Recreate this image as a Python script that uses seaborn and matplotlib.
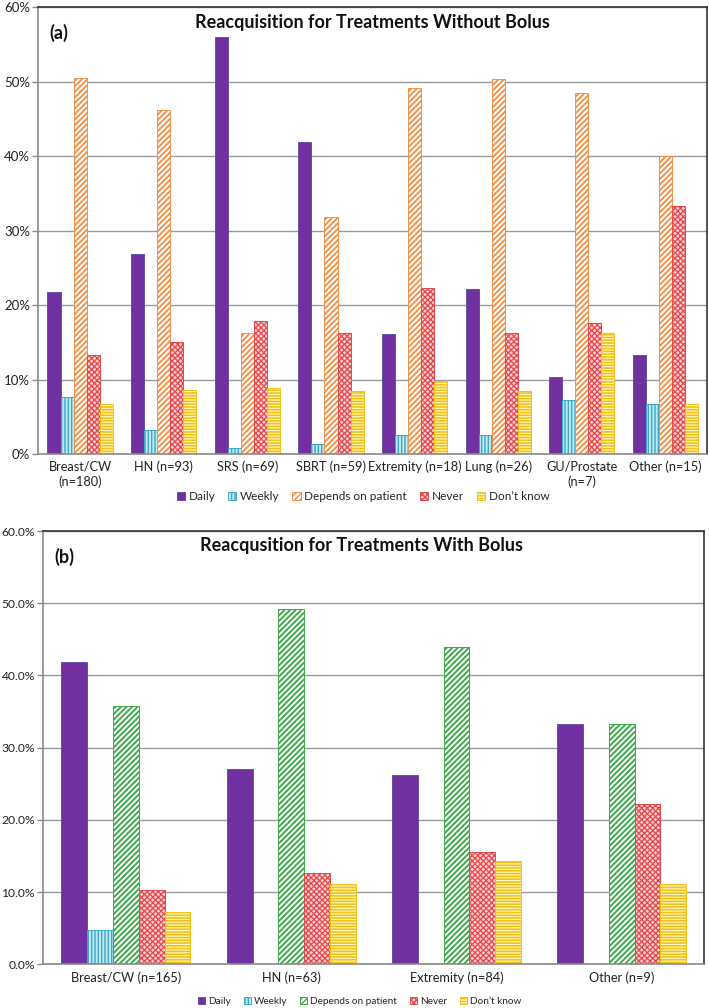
import numpy as np
import pandas as pd
import matplotlib
matplotlib.use("Agg")
import matplotlib.pyplot as plt
import seaborn as sns

# ---------------- data ----------------
responses = ["Daily", "Weekly", "Depends on patient", "Never", "Don\u2019t know"]

sites_a = ["Breast/CW\n(n=180)", "HN (n=93)", "SRS (n=69)", "SBRT (n=59)",
           "Extremity (n=18)", "Lung (n=26)", "GU/Prostate\n(n=7)", "Other (n=15)"]
daily_a = [21.7, 26.9, 56.0, 41.9, 16.1, 22.2, 10.3, 13.3]
weekly_a = [7.7, 3.2, 0.8, 1.4, 2.6, 2.6, 7.3, 6.7]
depends_a = [50.5, 46.2, 16.3, 31.9, 49.1, 50.4, 48.5, 40.0]
never_a = [13.3, 15.0, 17.9, 16.3, 22.3, 16.3, 17.6, 33.3]
dontknow_a = [6.7, 8.6, 8.9, 8.5, 9.8, 8.5, 16.2, 6.7]

sites_b = ["Breast/CW (n=165)", "HN (n=63)", "Extremity (n=84)", "Other (n=9)"]
daily_b = [41.8, 27.0, 26.2, 33.3]
weekly_b = [4.8, 0.0, 0.0, 0.0]
depends_b = [35.7, 49.2, 44.0, 33.3]
never_b = [10.3, 12.7, 15.5, 22.2]
dontknow_b = [7.3, 11.1, 14.3, 11.1]

yticks = [0, 10, 20, 30, 40, 50, 60]
title_a = "Reacquisition for Treatments Without Bolus"
title_b = "Reacqusition for Treatments With Bolus"


def long_df(sites, series):
    rows = []
    for resp, vals in zip(responses, series):
        for s, v in zip(sites, vals):
            rows.append({"site": s, "response": resp, "value": v})
    return pd.DataFrame(rows)


df_a = long_df(sites_a, [daily_a, weekly_a, depends_a, never_a, dontknow_a])
df_b = long_df(sites_b, [daily_b, weekly_b, depends_b, never_b, dontknow_b])

# ---------------- style ----------------
sns.set_theme(style="white")
plt.rcParams["font.family"] = ["Lato", "DejaVu Sans"]
plt.rcParams["hatch.linewidth"] = 1.0

fig = plt.figure(figsize=(7.09, 10.08), dpi=100)
W, H = 709, 1008
ax_a = fig.add_axes([38.3 / W, 1 - 454 / H, (707.3 - 38.3) / W, (454 - 7.3) / H])
ax_b = fig.add_axes([43.3 / W, 1 - 964.3 / H, (704.3 - 43.3) / W, (964.3 - 531) / H])


def styles(depends_col):
    # (fill, edge/hatch colour, hatch, hatch linewidth)
    return [
        ("#7030A0", "#6A4FA8", None, 1.0),
        ("#BFEAF3", "#3EA6C6", "|||||", 1.0),
        ("#FFFFFF", depends_col, "//////", 1.4),
        ("#FBD0D0", "#E5474B", "xxxxxx", 0.9),
        ("#FFF7C2", "#F2C21A", "------", 1.2),
    ]


def draw(ax, df, sites, depends_col, pct_fmt, ytick_fs, title, tag, title_x, legend_x,
         legend_y, legend_fs, colsp):
    pal = {r: s[0] for r, s in zip(responses, styles(depends_col))}
    sns.barplot(data=df, x="site", y="value", hue="response", hue_order=responses,
                order=sites, palette=pal, width=0.78, gap=0, ax=ax,
                saturation=1, legend=False, errorbar=None)
    for cont, (fc, ec, hatch, hlw) in zip(ax.containers, styles(depends_col)):
        for p in cont.patches:
            p.set_facecolor(fc)
            p.set_edgecolor(ec)
            p.set_linewidth(0.7)
            if hatch:
                p.set_hatch(hatch)
                if hasattr(p, "set_hatch_linewidth"):
                    p.set_hatch_linewidth(hlw)
            if p.get_height() == 0:
                p.set_linewidth(0)
    ax.set_ylim(0, 60)
    ax.set_xlim(-0.5, len(sites) - 0.5)
    ax.set_yticks(yticks)
    ax.set_yticklabels([pct_fmt.format(t) for t in yticks], fontsize=ytick_fs, color="#222222")
    ax.yaxis.grid(True, color="#9A9A9A", linewidth=1.0)
    ax.set_axisbelow(True)
    ax.set_xlabel("")
    ax.set_ylabel("")
    ax.tick_params(axis="x", which="major", length=0, labelsize=9.2, labelcolor="#222222", pad=5)
    ax.set_xticks(np.arange(-0.5, len(sites) + 0.5, 1), minor=True)
    ax.tick_params(axis="x", which="minor", length=5, color="#8A8A8A", width=1, direction="out")
    ax.tick_params(axis="y", length=4, color="#8A8A8A", width=1, direction="out", left=True, pad=2)
    for side in ["left", "bottom"]:
        ax.spines[side].set_color("#8A8A8A")
        ax.spines[side].set_linewidth(1.2)
    for side in ["top", "right"]:
        ax.spines[side].set_color("#333333")
        ax.spines[side].set_linewidth(1.2)
        ax.spines[side].set_visible(True)
    ax.text(title_x, 1 - 15 / ax.bbox.height, title, transform=ax.transAxes,
            ha="center", va="center", fontsize=13, fontweight="bold", color="#111111")
    ax.text(0.016, 1 - 26 / ax.bbox.height, tag, transform=ax.transAxes,
            ha="left", va="center", fontsize=13, fontweight="bold", color="#111111")
    fig.legend(ax.containers, responses, loc="center", bbox_to_anchor=(legend_x, legend_y),
               ncol=5, frameon=False, fontsize=legend_fs, handlelength=0.7,
               handleheight=0.7, handletextpad=0.3, columnspacing=colsp)


draw(ax_a, df_a, sites_a, "#F0924A", "{}%", 9.5, title_a, "(a)", 0.5, 363 / W, 1 - 497 / H, 8.5, 1.1)
draw(ax_b, df_b, sites_b, "#3DAA4A", "{:.1f}%", 8.7, title_b, "(b)",
     (362 - 43.3) / (704.3 - 43.3), 360 / W, 1 - 1001 / H, 7.2, 1.3)

fig.savefig("out.png", dpi=100)
